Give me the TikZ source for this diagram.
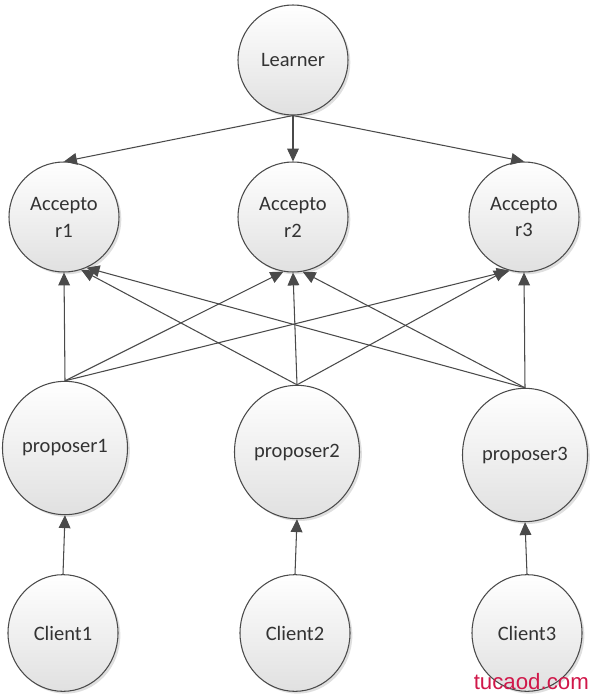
\documentclass[tikz,border=0pt]{standalone}
\usepackage{fontspec}
\setmainfont{Carlito}
\newfontfamily\markfont{Liberation Sans}
\usetikzlibrary{arrows.meta,shapes.geometric,shadows}

\definecolor{edgegrey}{HTML}{4A4A4A}
\definecolor{textgrey}{HTML}{333333}
\definecolor{markred}{HTML}{D0184A}

\tikzset{
    role/.style={draw=edgegrey, line width=0.9pt, top color=white, bottom color=black!12,
        text=textgrey, font=\fontsize{17.5}{23}\selectfont, align=center, inner sep=0pt,
        drop shadow={opacity=0.25, shadow xshift=0.07cm, shadow yshift=-0.07cm}},
    roundrole/.style={role, circle, minimum size=3.3cm},
    proprole/.style={role, ellipse, minimum width=3.75cm, minimum height=4cm},
    clientrole/.style={role, ellipse, minimum width=3.3cm, minimum height=3.5cm},
    msg/.style={draw=edgegrey, line width=0.9pt, -{Triangle[length=11pt,width=10pt]}}
}

\begin{document}
\begin{tikzpicture}[x=0.03cm,y=-0.03cm]
            \useasboundingbox (0,0) rectangle (600,700);

            % learner and acceptors
            \node[roundrole] (learner) at (293,60) {Learner};
            \node[roundrole] (acc1) at (64,217) {Accepto\\r1};
            \node[roundrole] (acc2) at (293,217) {Accepto\\r2};
            \node[roundrole] (acc3) at (524,217) {Accepto\\r3};

            % proposers
            \node[proprole] (prop1) at (65,448) {proposer1};
            \node[proprole] (prop2) at (297,452) {proposer2};
            \node[proprole] (prop3) at (525,455) {proposer3};

            % clients
            \node[clientrole] (cli1) at (63,633) {Client1};
            \node[clientrole] (cli2) at (295,633) {Client2};
            \node[clientrole] (cli3) at (527,633) {Client3};

            \draw[msg] (learner.south) -- (acc1.north);
            \draw[msg] (learner.south) -- (acc2.north);
            \draw[msg] (learner.south) -- (acc3.north);

            \draw[msg] (prop1.north) -- (acc1.south);
            \draw[msg] (prop1.north) -- (acc2.-100);
            \draw[msg] (prop1.north) -- (acc3.-105);
            \draw[msg] (prop2.north) -- (acc1.-72);
            \draw[msg] (prop2.north) -- (acc2.south);
            \draw[msg] (prop2.north) -- (acc3.-108);
            \draw[msg] (prop3.north) -- (acc1.-66);
            \draw[msg] (prop3.north) -- (acc2.-80);
            \draw[msg] (prop3.north) -- (acc3.south);

            \draw[msg] (cli1.north) -- (prop1.south);
            \draw[msg] (cli2.north) -- (prop2.south);
            \draw[msg] (cli3.north) -- (prop3.south);

            \node[text=markred, font=\markfont\fontsize{19}{19}\selectfont, anchor=east] (mark) at (593,682) {tucaod.com};
        \end{tikzpicture}
\end{document}
